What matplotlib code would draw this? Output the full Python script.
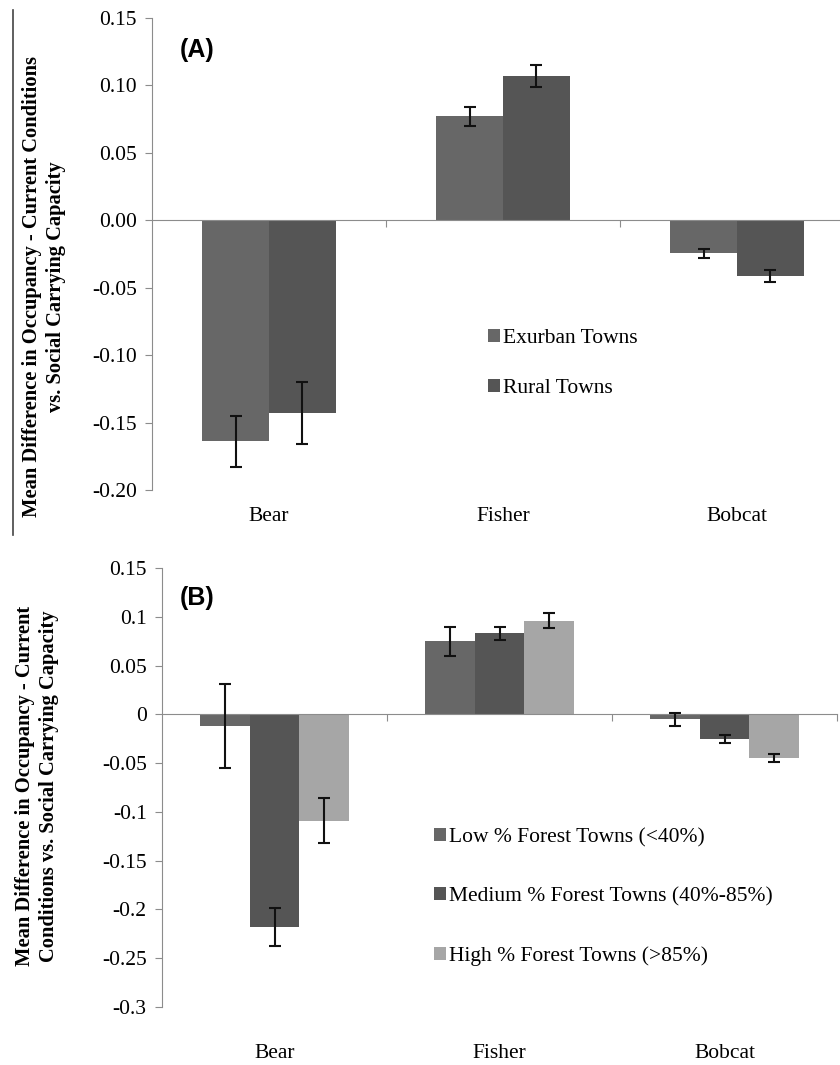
import numpy as np
import matplotlib
matplotlib.use('Agg')
import matplotlib.pyplot as plt
from matplotlib.lines import Line2D

# data
species = ['Bear', 'Fisher', 'Bobcat']

a_labels = ['Exurban Towns', 'Rural Towns']
a_exurban = [-0.164, 0.077, -0.0245]
a_exurban_err = [0.019, 0.007, 0.0035]
a_rural = [-0.143, 0.107, -0.041]
a_rural_err = [0.023, 0.008, 0.0045]

b_labels = ['Low % Forest Towns (<40%)', 'Medium % Forest Towns (40%-85%)',
            'High % Forest Towns (>85%)']
b_low = [-0.012, 0.075, -0.005]
b_low_err = [0.043, 0.015, 0.0065]
b_med = [-0.218, 0.083, -0.025]
b_med_err = [0.0195, 0.007, 0.004]
b_high = [-0.109, 0.096, -0.045]
b_high_err = [0.023, 0.008, 0.004]

a_yticks = [0.15, 0.10, 0.05, 0.00, -0.05, -0.10, -0.15, -0.20]
b_yticks = [0.15, 0.1, 0.05, 0, -0.05, -0.1, -0.15, -0.2, -0.25, -0.3]
b_yticklabels = ['0.15', '0.1', '0.05', '0', '-0.05', '-0.1', '-0.15', '-0.2', '-0.25', '-0.3']

colors = ['#676767', '#555555', '#a6a6a6']
axcol = '#8c8c8c'
serif = 'Liberation Serif'
W, H = 840, 1065


def style_axis(ax, yticks, yticklabels, ylim, label_off):
    ax.set_xlim(-0.5, 2.5)
    ax.set_ylim(*ylim)
    for s in ['top', 'right']:
        ax.spines[s].set_visible(False)
    ax.spines['left'].set_color(axcol)
    ax.spines['bottom'].set_color(axcol)
    ax.spines['bottom'].set_position(('data', 0))
    ax.set_xticks([0.5, 1.5, 2.5])
    ax.set_xticklabels([])
    ax.set_yticks(yticks)
    ax.set_yticklabels(yticklabels, family=serif, fontsize=15.5)
    ax.tick_params(axis='x', direction='out', length=5, color=axcol)
    ax.tick_params(axis='y', direction='out', length=5, color=axcol, pad=6)
    for i, name in enumerate(species):
        ax.text(i, label_off, name, transform=ax.get_xaxis_transform(),
                ha='center', va='center', family=serif, fontsize=15.5)


fig = plt.figure(figsize=(W / 100, H / 100), dpi=100)

# panel A
ax1 = fig.add_axes([152 / W, 1 - 490 / H, 702 / W, 472 / H])
x = np.arange(3)
w = 0.285
ax1.bar(x - w / 2, a_exurban, w, color=colors[0], label=a_labels[0], zorder=2)
ax1.bar(x + w / 2, a_rural, w, color=colors[1], label=a_labels[1], zorder=2)
ax1.errorbar(x - w / 2, a_exurban, yerr=a_exurban_err, fmt='none', ecolor='#111111',
             elinewidth=1.5, capsize=4, capthick=1.5, zorder=3)
ax1.errorbar(x + w / 2, a_rural, yerr=a_rural_err, fmt='none', ecolor='#111111',
             elinewidth=1.5, capsize=4, capthick=1.5, zorder=3)
style_axis(ax1, a_yticks, ['%.2f' % v for v in a_yticks], (-0.2, 0.15), -0.057)
ax1.legend(loc='upper left', bbox_to_anchor=(477 / W, 1 - 318 / H),
           bbox_transform=fig.transFigure, frameon=False, borderpad=0,
           handlelength=0.55, handleheight=0.55, handletextpad=0.15,
           labelspacing=1.45, prop={'family': serif, 'size': 15.5})
fig.text(180 / W, 1 - 50 / H, '(A)', family='Liberation Sans', weight='bold',
         fontsize=18, ha='left', va='center')
fig.text(44 / W, 1 - 287 / H,
         'Mean Difference in Occupancy - Current Conditions\nvs. Social Carrying Capacity',
         rotation=90, ha='center', va='center', multialignment='center',
         family=serif, weight='bold', fontsize=14.8, linespacing=1.25)

# panel B
ax2 = fig.add_axes([162 / W, 1 - 1007 / H, 675 / W, 439 / H])
wb = 0.22
for k, (vals, errs) in enumerate([(b_low, b_low_err), (b_med, b_med_err), (b_high, b_high_err)]):
    pos = x + (k - 1) * wb
    ax2.bar(pos, vals, wb, color=colors[k], label=b_labels[k], zorder=2)
    ax2.errorbar(pos, vals, yerr=errs, fmt='none', ecolor='#111111',
                 elinewidth=1.5, capsize=4, capthick=1.5, zorder=3)
style_axis(ax2, b_yticks, b_yticklabels, (-0.3, 0.15), -0.105)
ax2.legend(loc='upper left', bbox_to_anchor=(423 / W, 1 - 817 / H),
           bbox_transform=fig.transFigure, frameon=False, borderpad=0,
           handlelength=0.55, handleheight=0.55, handletextpad=0.15,
           labelspacing=1.85, prop={'family': serif, 'size': 15.5})
fig.text(180 / W, 1 - 598 / H, '(B)', family='Liberation Sans', weight='bold',
         fontsize=18, ha='left', va='center')
fig.text(37 / W, 1 - 786 / H,
         'Mean Difference in Occupancy - Current\nConditions vs. Social Carrying Capacity',
         rotation=90, ha='center', va='center', multialignment='center',
         family=serif, weight='bold', fontsize=14.8, linespacing=1.25)

# thin frame line at the left of panel A
fig.add_artist(Line2D([13 / W, 13 / W], [1 - 10 / H, 1 - 535 / H],
                      transform=fig.transFigure, color='#444444', lw=1.2))

fig.savefig('out.png', dpi=100)
